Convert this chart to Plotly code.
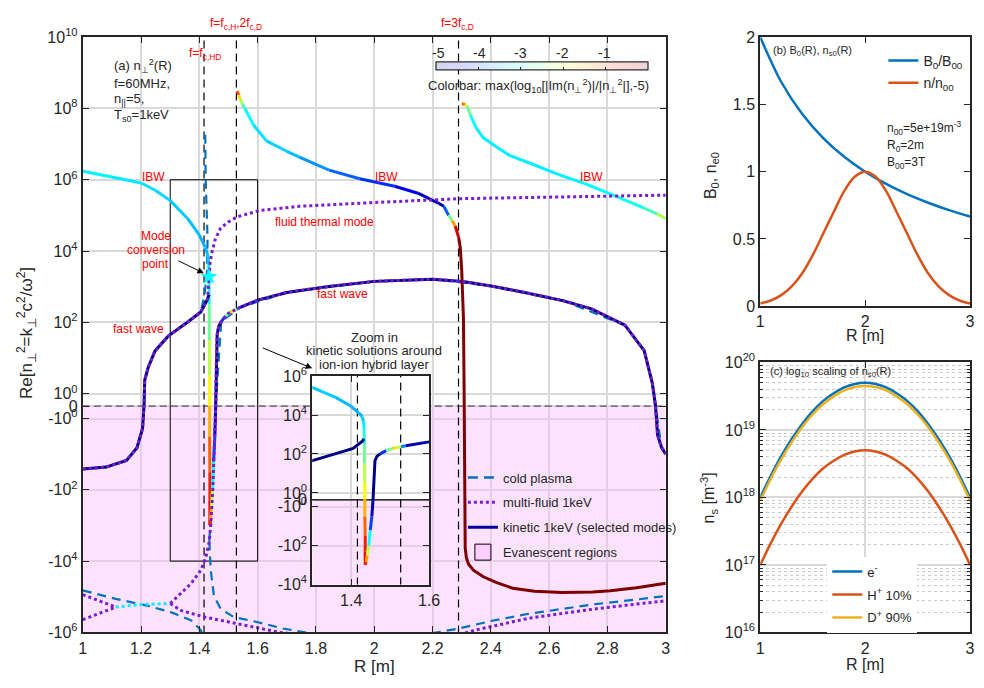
import numpy as np
import plotly.graph_objects as go

W, H = 984, 688
FONT = "Liberation Sans, Arial, Helvetica, sans-serif"
AX = "#262626"
GRID = "#D9D9D9"
COLD = "#0072BD"
FLUID = "#7A1BCF"
RED = "#FF0000"

# ======================= DATA: panel (a) =======================
# resonance layers (R in m): f=f_c,HD ; f=f_c,H=2f_c,D ; f=3f_c,D
res_R = [1.416, 1.527, 2.289]

# kinetic 1 keV: IBW left of ion-ion hybrid layer, continuing down through it
k1_R = [1.00, 1.10, 1.20, 1.25, 1.30, 1.36, 1.40, 1.42, 1.428, 1.432, 1.433, 1.434,
        1.434, 1.435, 1.435, 1.435, 1.436, 1.436, 1.436]
k1_v = [1.74e6, 1.2e6, 8.1e5, 5.0e5, 2.6e5, 8.1e4, 2.8e4, 1.26e4, 8.3e3, 4.5e3, 1.9e3, 316,
        32, 3.2, 0, -3.2, -32, -200, -980]
k1_c = [-3.15, -3.2, -3.25, -3.3, -3.35, -3.4, -3.5, -3.5, -3.45, -3.3, -3.1, -2.8,
        -2.4, -2.0, -1.7, -1.3, -0.9, -0.6, -0.5]

# kinetic: fast wave left of the layer
k2_R = [1.00, 1.08, 1.15, 1.186, 1.205, 1.210, 1.2125, 1.225, 1.248, 1.293, 1.36, 1.405, 1.428, 1.433]
k2_v = [-26, -23, -15, -6.6, -1.9, 0, 2.4, 5.6, 15.8, 41, 102, 195, 447, 600]
k2_c = [-5, -5, -5, -5, -5, -5, -5, -5, -5, -5, -5, -5, -5, -5]

# kinetic: fast wave right of the layer
k3_R = [1.436, 1.438, 1.441, 1.445, 1.449, 1.453, 1.456, 1.458, 1.461, 1.466, 1.475, 1.49,
        1.505, 1.515, 1.528, 1.54, 1.60, 1.70, 1.845, 2.0, 2.2, 2.28, 2.295, 2.31, 2.4,
        2.52, 2.65, 2.745, 2.86, 2.926, 2.954, 2.965, 2.972, 2.985, 3.0]
k3_v = [-980, -700, -320, -100, -16, -3.2, 0, 6.3, 45, 75, 105, 150,
        190, 210, 235, 263, 420, 690, 1020, 1410, 1620, 1450, 1410, 1370, 1050,
        680, 400, 240, 83, 16, 1.95, 0, -2.9, -6.3, -10]
k3_c = [-0.6, -1.0, -1.8, -2.6, -3.6, -4.5, -5, -5, -5, -5, -5, -3.3,
        -1.9, -1.4, -3.0, -4.5, -5, -5, -5, -5, -5, -5, -3.3, -5, -5,
        -5, -5, -5, -5, -5, -5, -5, -5, -5, -5]

# kinetic: IBW between 2f_c,D and 3f_c,D, turning evanescent
k4_R = [1.529, 1.535, 1.54, 1.548, 1.557, 1.585, 1.63, 1.70, 1.743, 1.845, 1.95, 2.07, 2.15,
        2.216, 2.239, 2.255, 2.267, 2.278, 2.29, 2.295, 2.30, 2.306, 2.308, 2.3085, 2.309,
        2.311, 2.312, 2.316, 2.323, 2.34, 2.374, 2.42, 2.475, 2.55, 2.644, 2.75, 2.81, 2.9, 3.0]
k4_v = [3.1e8, 2.4e8, 1.8e8, 1.3e8, 9.8e7, 3.5e7, 1.23e7, 6.3e6, 4.3e6, 1.86e6, 1.07e6, 6.6e5, 4.2e5,
        2.3e5, 1.8e5, 1.0e5, 7.1e4, 5.0e4, 2.3e4, 1.26e4, 2.9e3, 126, 1.95, 0, -35,
        -1000, -4.3e3, -8.0e3, -1.2e4, -1.8e4, -2.75e4, -4.0e4, -5.75e4, -7.0e4, -7.6e4, -7.3e4, -6.8e4, -5.6e4, -4.2e4]
k4_c = [-0.6, -1.4, -2.0, -2.6, -3.0, -3.2, -3.3, -3.4, -3.5, -3.8, -4.0, -4.3, -4.6,
        -4.8, -4.8, -3.1, -2.0, -0.8, 0, 0, 0, 0, 0, 0, 0,
        0, 0, 0, 0, 0, 0, 0, 0, 0, 0, 0, 0, 0, 0]

# kinetic: IBW beyond 3f_c,D
k5_R = [2.300, 2.312, 2.318, 2.33, 2.35, 2.374, 2.42, 2.464, 2.55, 2.633, 2.72, 2.82, 2.926, 2.97, 3.0]
k5_v = [1.35e8, 1.3e8, 1.2e8, 6.5e7, 2.8e7, 1.5e7, 8.3e6, 4.8e6, 2.6e6, 1.4e6, 7.9e5, 3.7e5, 1.6e5, 1.1e5, 8.1e4]
k5_c = [-0.8, -1.6, -2.2, -3.0, -3.2, -3.2, -3.2, -3.2, -3.2, -3.2, -3.15, -3.1, -3.0, -2.6, -2.0]

# multi-fluid 1 keV
fl1_R = [1.00, 1.08, 1.15, 1.186, 1.205, 1.210, 1.2125, 1.225, 1.248, 1.293, 1.36, 1.405, 1.428,
         1.433, 1.437, 1.444, 1.455, 1.473, 1.50, 1.529, 1.608, 1.743, 1.845, 2.0, 2.295, 2.6, 3.0]
fl1_v = [-26, -23, -15, -6.6, -1.9, 0, 2.4, 5.6, 15.8, 41, 102, 195, 447,
         1.9e3, 5.0e3, 1.0e4, 2.2e4, 4.4e4, 6.6e4, 9.1e4, 1.38e5, 1.8e5, 2.0e5, 2.3e5, 2.95e5, 3.3e5, 3.7e5]
fl2_R = [1.30, 1.327, 1.372, 1.405, 1.422, 1.434, 1.439, 1.446, 1.449, 1.453, 1.456, 1.458, 1.461,
         1.466, 1.475, 1.50, 1.54, 1.60, 1.70, 1.845, 2.0, 2.2, 2.3, 2.4, 2.52, 2.65, 2.745, 2.86,
         2.926, 2.954, 2.965, 2.972, 2.985, 3.0]
fl2_v = [-1.55e5, -9.5e4, -4.2e4, -1.8e4, -7.9e3, -2.8e3, -980, -100, -16, -3.2, 0, 6.3, 45,
         75, 105, 180, 263, 420, 690, 1020, 1410, 1620, 1410, 1050, 680, 400, 240, 83,
         16, 1.95, 0, -2.9, -6.3, -10]
fl3_R = [1.113, 1.20, 1.30]              # complex pair (real part)
fl3_v = [-1.95e5, -1.65e5, -1.55e5]
fl4_R = [1.00, 1.056, 1.113]
fl4_v = [-8.7e4, -1.3e5, -1.95e5]
fl5_R = [1.00, 1.056, 1.113]
fl5_v = [-4.4e5, -3.0e5, -1.95e5]
fl6_R = [1.30, 1.338, 1.417, 1.529, 1.60, 1.676, 1.8, 2.0, 2.2, 2.30, 2.35, 2.45, 2.53, 2.65, 2.757, 2.9, 3.0]
fl6_v = [-1.55e5, -2.45e5, -3.7e5, -5.75e5, -7.5e5, -1.0e6, -1.3e6, -1.5e6, -1.3e6, -1.1e6, -8.5e5,
         -5.6e5, -4.0e5, -2.9e5, -2.2e5, -1.6e5, -1.3e5]

# cold plasma
c1_R = [1.00, 1.08, 1.15, 1.186, 1.205, 1.210, 1.2125, 1.225, 1.248, 1.293, 1.36, 1.405,
        1.418, 1.426, 1.428, 1.4255, 1.4225, 1.4216, 1.4205, 1.420]
c1_v = [-26, -23, -15, -6.6, -1.9, 0, 2.4, 5.6, 15.8, 41, 102, 195,
        630, 2.5e3, 2.3e4, 6.6e4, 3.0e5, 1.0e6, 1.0e7, 2.5e7]
c2_R = [1.00, 1.113, 1.225, 1.304, 1.372, 1.405, 1.415]
c2_v = [-6.6e4, -1.15e5, -1.8e5, -2.75e5, -4.6e5, -8.7e5, -1.5e6]
c3_R = [1.434, 1.439, 1.45, 1.473, 1.518, 1.597, 1.687, 1.78, 2.0, 2.2, 2.29, 2.4, 2.53, 2.65, 2.76, 2.9, 3.0]
c3_v = [-2.8e3, -1.8e4, -9.5e4, -2.2e5, -3.7e5, -5.1e5, -7.8e5, -1.05e6, -1.4e6, -1.05e6, -7.8e5,
        -4.8e5, -3.0e5, -2.2e5, -1.6e5, -1.2e5, -9.5e4]
c4_R = [1.434, 1.445, 1.456, 1.475, 1.54, 1.70, 2.0, 2.2, 2.4, 2.65, 2.86, 2.926, 2.954, 2.965, 2.985, 3.0]
c4_v = [-2.8e3, -100, 0, 105, 263, 690, 1410, 1620, 1050, 400, 83, 16, 1.95, 0, -6.3, -10]

star_R = [1.433]
star_v = [1.9e3]

evan_R = [1.0, 3.0]          # evanescent band: Re[n^2] from 0 down to bottom of axis
evan_v = [0, -1e6]
box_R = [1.3, 1.6]           # zoom box
box_v = [-1e4, 1e6]

a_yticks = [1e10, 1e8, 1e6, 1e4, 1e2, 1, 0, -1, -1e2, -1e4, -1e6]
a_yticktext = ["10<sup>10</sup>", "10<sup>8</sup>", "10<sup>6</sup>", "10<sup>4</sup>", "10<sup>2</sup>",
               "10<sup>0</sup>", "0", "-10<sup>0</sup>", "-10<sup>2</sup>", "-10<sup>4</sup>", "-10<sup>6</sup>"]
in_yticks = [1e6, 1e4, 1e2, 1, 0, -1, -1e2, -1e4]
in_yticktext = ["10<sup>6</sup>", "10<sup>4</sup>", "10<sup>2</sup>", "10<sup>0</sup>", "0",
                "-10<sup>0</sup>", "-10<sup>2</sup>", "-10<sup>4</sup>"]
a_xticks = [1, 1.2, 1.4, 1.6, 1.8, 2, 2.2, 2.4, 2.6, 2.8, 3]
a_xticktext = ["1", "1.2", "1.4", "1.6", "1.8", "2", "2.2", "2.4", "2.6", "2.8", "3"]
cb_ticks = [-5, -4, -3, -2, -1]

# ======================= DATA: panel (b) =======================
b_R = [1.0, 1.2, 1.4, 1.6, 1.8, 2.0, 2.2, 2.4, 2.6, 2.8, 3.0]
b_B = [2.0, 1.667, 1.429, 1.25, 1.111, 1.0, 0.909, 0.833, 0.769, 0.714, 0.667]
n_R = [1.0, 1.1, 1.2, 1.3, 1.4, 1.5, 1.6, 1.7, 1.8, 1.9, 2.0, 2.1, 2.2, 2.3, 2.4, 2.5, 2.6, 2.7, 2.8, 2.9, 3.0]
n_n = [0.02, 0.042, 0.082, 0.147, 0.245, 0.38, 0.54, 0.70, 0.855, 0.962, 1.0,
       0.962, 0.855, 0.70, 0.54, 0.38, 0.245, 0.147, 0.082, 0.042, 0.02]

# ======================= DATA: panel (c) =======================
ns_e = [1.0e18, 2.1e18, 4.1e18, 7.35e18, 1.23e19, 1.9e19, 2.7e19, 3.5e19, 4.28e19, 4.81e19, 5.0e19,
        4.81e19, 4.28e19, 3.5e19, 2.7e19, 1.9e19, 1.23e19, 7.35e18, 4.1e18, 2.1e18, 1.0e18]
ns_H = [1.0e17, 2.1e17, 4.1e17, 7.35e17, 1.23e18, 1.9e18, 2.7e18, 3.5e18, 4.28e18, 4.81e18, 5.0e18,
        4.81e18, 4.28e18, 3.5e18, 2.7e18, 1.9e18, 1.23e18, 7.35e17, 4.1e17, 2.1e17, 1.0e17]
ns_D = [9.0e17, 1.89e18, 3.69e18, 6.6e18, 1.11e19, 1.71e19, 2.43e19, 3.15e19, 3.85e19, 4.33e19, 4.5e19,
        4.33e19, 3.85e19, 3.15e19, 2.43e19, 1.71e19, 1.11e19, 6.6e18, 3.69e18, 1.89e18, 9.0e17]

# ======================= helpers =======================
A = 0.35  # half-decade offset of the symmetric-log axis around zero


def sl(vals):
    v = np.asarray(vals, dtype=float)
    mag = np.abs(v)
    out = A * v
    big = mag >= 1
    out[big] = np.sign(v[big]) * (np.log10(mag[big]) + A)
    return out


def jet_rgb(x):
    x = min(max(x, 0.0), 1.0)
    f = lambda d: min(max(1.5 - abs(4 * x - d), 0.0), 1.0)
    return f(3), f(2), f(1)


def kin_color(c):
    r, g, b = jet_rgb((c + 5) / 5)
    return f"rgb({round(r*255)},{round(g*255)},{round(b*255)})"


pale_jet = []
for i in range(11):
    r, g, b = jet_rgb(i / 10)
    al = 0.16
    pale_jet.append([i / 10, f"rgb({round(255*(1-al*(1-r)))},{round(255*(1-al*(1-g)))},{round(255*(1-al*(1-b)))})"])

fig = go.Figure()


def add_line(R, v, xa, ya, color, width, dash=None, **kw):
    fig.add_trace(go.Scatter(x=list(R), y=list(sl(v)), mode="lines",
                             line=dict(color=color, width=width, dash=dash),
                             showlegend=False, hoverinfo="skip", xaxis=xa, yaxis=ya, **kw))


def add_colored(R, v, c, xa, ya, width=3):
    t = sl(v)
    segs = []
    for i in range(len(R) - 1):
        col = kin_color(0.5 * (c[i] + c[i + 1]))
        if segs and segs[-1][0] == col:
            segs[-1][1].append(i + 1)
        else:
            segs.append([col, [i, i + 1]])
    for col, idx in segs:
        fig.add_trace(go.Scatter(x=[R[j] for j in idx], y=[t[j] for j in idx], mode="lines",
                                 line=dict(color=col, width=width), showlegend=False,
                                 hoverinfo="skip", xaxis=xa, yaxis=ya))


PINK_FILL = "rgba(250,190,250,0.45)"

# ---------------- panel (a) main ----------------
fig.add_trace(go.Scatter(x=[evan_R[0], evan_R[1], evan_R[1], evan_R[0], evan_R[0]],
                         y=list(sl([evan_v[0], evan_v[0], evan_v[1], evan_v[1], evan_v[0]])),
                         mode="lines", fill="toself", fillcolor=PINK_FILL, line=dict(width=0),
                         showlegend=False, hoverinfo="skip", xaxis="x", yaxis="y"))
add_line([evan_R[0], evan_R[1]], [0, 0], "x", "y", "#333333", 1, dash="7px,4px")
for r in res_R:
    add_line([r, r], [1e11, -1e7], "x", "y", "black", 1.2, dash="8px,5px")
add_line([box_R[0], box_R[1], box_R[1], box_R[0], box_R[0]],
         [box_v[1], box_v[1], box_v[0], box_v[0], box_v[1]], "x", "y", "black", 1)

# cold plasma (underneath)
for R, v in [(c1_R, c1_v), (c2_R, c2_v), (c3_R, c3_v), (c4_R, c4_v)]:
    add_line(R, v, "x", "y", COLD, 2.2, dash="9px,6px")
# kinetic
for R, v, c in [(k1_R, k1_v, k1_c), (k2_R, k2_v, k2_c), (k3_R, k3_v, k3_c),
                (k4_R, k4_v, k4_c), (k5_R, k5_v, k5_c)]:
    add_colored(R, v, c, "x", "y", 3)
# multi-fluid
for R, v in [(fl1_R, fl1_v), (fl2_R, fl2_v), (fl4_R, fl4_v), (fl5_R, fl5_v), (fl6_R, fl6_v)]:
    add_line(R, v, "x", "y", FLUID, 3, dash="dot")
add_line(fl3_R, fl3_v, "x", "y", "#00F0FF", 3, dash="dot")
# mode conversion point
fig.add_trace(go.Scatter(x=star_R, y=list(sl(star_v)), mode="markers",
                         marker=dict(symbol="star", size=13, color="#00FFFF", line=dict(width=0)),
                         showlegend=False, hoverinfo="skip", xaxis="x", yaxis="y"))

# colorbar carrier (points off-axis, only the colour scale is shown)
fig.add_trace(go.Scatter(x=[2, 2], y=[20, 20], mode="markers",
                         marker=dict(color=[cb_ticks[0], 0], colorscale=pale_jet, cmin=-5, cmax=0, size=2,
                                     showscale=True,
                                     colorbar=dict(orientation="h", x=546.3 / W, xanchor="center",
                                                   y=1 - 58.5 / H, yanchor="middle", len=212, lenmode="pixels",
                                                   thickness=8, thicknessmode="pixels", tickvals=cb_ticks[1:],
                                                   ticks="inside", ticklen=3, tickcolor=AX,
                                                   showticklabels=False, outlinewidth=1.2, outlinecolor=AX,
                                                   xpad=0, ypad=0)),
                         showlegend=False, hoverinfo="skip", xaxis="x", yaxis="y"))

# legend entries (a)
fig.add_trace(go.Scatter(x=[None], y=[None], mode="lines", name="cold plasma",
                         line=dict(color=COLD, width=2.5, dash="10px,6px"), legendgroup="g1", xaxis="x", yaxis="y"))
fig.add_trace(go.Scatter(x=[None], y=[None], mode="lines", name="multi-fluid 1keV",
                         line=dict(color=FLUID, width=3, dash="dot"), legendgroup="g2", xaxis="x", yaxis="y"))
fig.add_trace(go.Scatter(x=[None], y=[None], mode="lines", name="kinetic 1keV (selected modes)",
                         line=dict(color="#0000A0", width=3), legendgroup="g3", xaxis="x", yaxis="y"))
fig.add_trace(go.Scatter(x=[None], y=[None], mode="markers", name="Evanescent regions",
                         marker=dict(symbol="square", size=16, color="rgb(253,205,253)",
                                     line=dict(color="black", width=1)),
                         legendgroup="g4", xaxis="x", yaxis="y"))

# ---------------- inset ----------------
fig.add_trace(go.Scatter(x=[box_R[0], box_R[1], box_R[1], box_R[0], box_R[0]],
                         y=list(sl([0, 0, box_v[0], box_v[0], 0])),
                         mode="lines", fill="toself", fillcolor=PINK_FILL, line=dict(width=0),
                         showlegend=False, hoverinfo="skip", xaxis="x2", yaxis="y2"))
add_line([box_R[0], box_R[1]], [0, 0], "x2", "y2", "black", 1.2)
for r in res_R[:2]:
    add_line([r, r], [1e7, -1e5], "x2", "y2", "black", 1.2, dash="8px,5px")
for R, v, c in [(k1_R, k1_v, k1_c), (k2_R, k2_v, k2_c), (k3_R, k3_v, k3_c)]:
    add_colored(R, v, c, "x2", "y2", 3)

# ---------------- panel (b) ----------------
fig.add_trace(go.Scatter(x=b_R, y=b_B, mode="lines", name="B<sub>0</sub>/B<sub>00</sub>",
                         line=dict(color="#0072BD", width=2.5, shape="spline"), legendgroup="b1",
                         xaxis="x3", yaxis="y3", legend="legend2", hoverinfo="skip"))
fig.add_trace(go.Scatter(x=n_R, y=n_n, mode="lines", name="n/n<sub>00</sub>",
                         line=dict(color="#D95319", width=2.5, shape="spline"), legendgroup="b2",
                         xaxis="x3", yaxis="y3", legend="legend2", hoverinfo="skip"))

# ---------------- panel (c) ----------------
fig.add_trace(go.Scatter(x=n_R, y=ns_e, mode="lines", name="e<sup>-</sup>",
                         line=dict(color="#0072BD", width=2.5, shape="spline"), legendgroup="c1",
                         xaxis="x4", yaxis="y4", legend="legend3", hoverinfo="skip"))
fig.add_trace(go.Scatter(x=n_R, y=ns_H, mode="lines", name="H<sup>+</sup> 10%",
                         line=dict(color="#D95319", width=2.5, shape="spline"), legendgroup="c2",
                         xaxis="x4", yaxis="y4", legend="legend3", hoverinfo="skip"))
fig.add_trace(go.Scatter(x=n_R, y=ns_D, mode="lines", name="D<sup>+</sup> 90%",
                         line=dict(color="#EDB120", width=2.5, shape="spline"), legendgroup="c3",
                         xaxis="x4", yaxis="y4", legend="legend3", hoverinfo="skip"))


# ---------------- axes ----------------
def axstyle(**kw):
    d = dict(showline=True, linecolor=AX, linewidth=2, mirror="allticks", ticks="inside", ticklen=6,
             tickwidth=1.2, tickcolor=AX, tickfont=dict(family=FONT, size=16, color=AX),
             zeroline=False, showgrid=False, gridcolor=GRID, gridwidth=1.5, fixedrange=True)
    d.update(kw)
    return d


minor_c = [m * 10.0 ** e for e in range(16, 20) for m in range(2, 10)]

fig.update_layout(
    width=W, height=H, margin=dict(l=0, r=0, t=0, b=0),
    paper_bgcolor="white", plot_bgcolor="white", hovermode=False,
    font=dict(family=FONT, color=AX),
    xaxis=axstyle(domain=[80 / W, 672 / W], range=[1, 3], anchor="y", tickvals=a_xticks,
                  ticktext=a_xticktext, showgrid=True),
    yaxis=axstyle(domain=[1 - 640 / H, 1 - 27 / H], range=[-6.35, 10.35], anchor="x",
                  tickvals=list(sl(a_yticks)), ticktext=a_yticktext, showgrid=True),
    xaxis2=axstyle(domain=[313 / W, 431.7 / W], range=[1.3, 1.6], anchor="y2", tickvals=[1.4, 1.6],
                   ticktext=["1.4", "1.6"], showgrid=True),
    yaxis2=axstyle(domain=[1 - 590.7 / H, 1 - 376 / H], range=[-4.35, 6.35], anchor="x2",
                   tickvals=list(sl(in_yticks)), ticktext=in_yticktext, showgrid=True),
    xaxis3=axstyle(domain=[768 / W, 981 / W], range=[1, 3], anchor="y3", tickvals=[1, 2, 3],
                   ticktext=["1", "2", "3"]),
    yaxis3=axstyle(domain=[1 - 304 / H, 1 - 27 / H], range=[0, 2], anchor="x3",
                   tickvals=[0, 0.5, 1, 1.5, 2], ticktext=["0", "0.5", "1", "1.5", "2"]),
    xaxis4=axstyle(domain=[768 / W, 981 / W], range=[1, 3], anchor="y4", tickvals=[1, 2, 3],
                   ticktext=["1", "2", "3"], showgrid=True),
    yaxis4=axstyle(domain=[1 - 640 / H, 1 - 362 / H], type="log", range=[16, 20], anchor="x4",
                   tickvals=[1e16, 1e17, 1e18, 1e19, 1e20],
                   ticktext=["10<sup>16</sup>", "10<sup>17</sup>", "10<sup>18</sup>", "10<sup>19</sup>",
                             "10<sup>20</sup>"], showgrid=True,
                   minor=dict(tickvals=minor_c, ticks="inside", ticklen=3, tickcolor=AX, showgrid=True,
                              griddash="dot", gridcolor="#C9C9C9", gridwidth=1)),
    legend=dict(x=466 / W, y=1 - 465 / H, xanchor="left", yanchor="top", bgcolor="rgba(0,0,0,0)",
                font=dict(family=FONT, size=13, color=AX), traceorder="grouped", tracegroupgap=5,
                itemclick=False),
    legend2=dict(x=893 / W, y=1 - 35 / H, xanchor="left", yanchor="top", bgcolor="rgba(0,0,0,0)",
                 font=dict(family=FONT, size=14, color=AX), traceorder="grouped", tracegroupgap=1),
    legend3=dict(x=836 / W, y=1 - 562 / H, xanchor="left", yanchor="top", bgcolor="white",
                 font=dict(family=FONT, size=13, color=AX), traceorder="grouped", tracegroupgap=3),
)


def txt(x, y, s, size=13, color="black", xanchor="center", yanchor="middle", angle=0):
    return dict(x=x / W, y=1 - y / H, xref="paper", yref="paper", text=s, showarrow=False,
                font=dict(family=FONT, size=size, color=color), xanchor=xanchor, yanchor=yanchor,
                textangle=angle)


ann = [
    txt(110, 57, "(a) n<sub>⊥</sub><sup>2</sup>(R)", 13, AX, "left"),
    txt(110, 75, "f=60MHz,", 13, AX, "left"),
    txt(110, 91, "n<sub>||</sub>=5,", 13, AX, "left"),
    txt(110, 108, "T<sub>s0</sub>=1keV", 13, AX, "left"),
    txt(204, 44, "f=f<sub>c,HD</sub>", 12, RED),
    txt(236, 13, "f=f<sub>c,H</sub>,2f<sub>c,D</sub>", 12, RED),
    txt(461, 13, "f=3f<sub>c,D</sub>", 12, RED),
    txt(152, 171, "IBW", 12, RED),
    txt(388, 171, "IBW", 12, RED),
    txt(597, 171, "IBW", 12, RED),
    txt(325, 217, "fluid thermal mode", 12, RED),
    txt(154, 232, "Mode", 12, RED),
    txt(154, 246, "conversion", 12, RED),
    txt(154, 261, "point", 12, RED),
    txt(137, 328, "fast wave", 12, RED),
    txt(344, 291, "fast wave", 12, RED),
    txt(376, 336, "Zoom in", 13, AX),
    txt(376, 350, "kinetic solutions around", 13, AX),
    txt(376, 364, "ion-ion hybrid layer", 13, AX),
    txt(543, 77, "Colorbar: max(log<sub>10</sub>[|Im(n<sub>⊥</sub><sup>2</sup>)|/|n<sub>⊥</sub><sup>2</sup>|],-5)", 13, AX),
    txt(23, 332, "Re[n<sub>⊥</sub><sup>2</sup>=k<sub>⊥</sub><sup>2</sup>c<sup>2</sup>/ω<sup>2</sup>]", 17, AX, angle=-90),
    txt(376, 675, "R [m]", 17, AX),
    txt(779, 41, "(b) B<sub>0</sub>(R), n<sub>s0</sub>(R)", 11, AX, "left"),
    txt(895, 121, "n<sub>00</sub>=5e+19m<sup>-3</sup>", 12, AX, "left"),
    txt(895, 139, "R<sub>0</sub>=2m", 12, AX, "left"),
    txt(895, 157, "B<sub>00</sub>=3T", 12, AX, "left"),
    txt(718, 170, "B<sub>0</sub>, n<sub>e0</sub>", 16, AX, angle=-90),
    txt(874, 334, "R [m]", 16, AX),
    txt(776, 372, "(c) log<sub>10</sub> scaling of n<sub>s0</sub>(R)", 11, AX, "left"),
    txt(716, 502, "n<sub>s</sub> [m<sup>-3</sup>]", 16, AX, angle=-90),
    txt(874, 673, "R [m]", 16, AX),
]
for t_, xpx in zip(cb_ticks, [441, 483, 525, 567.5, 610]):
    ann.append(txt(xpx, 43, str(t_), 14, AX))
ann.append(dict(x=203 / W, y=1 - 270 / H, xref="paper", yref="paper", ax=-27, ay=-13, axref="pixel",
                ayref="pixel", showarrow=True, arrowhead=2, arrowsize=1.3, arrowwidth=1, arrowcolor="black",
                text=""))
ann.append(dict(x=313 / W, y=1 - 368 / H, xref="paper", yref="paper", ax=-51, ay=-21, axref="pixel",
                ayref="pixel", showarrow=True, arrowhead=2, arrowsize=1.3, arrowwidth=1, arrowcolor="black",
                text=""))
fig.update_layout(annotations=ann)

fig.write_html("out.html")
